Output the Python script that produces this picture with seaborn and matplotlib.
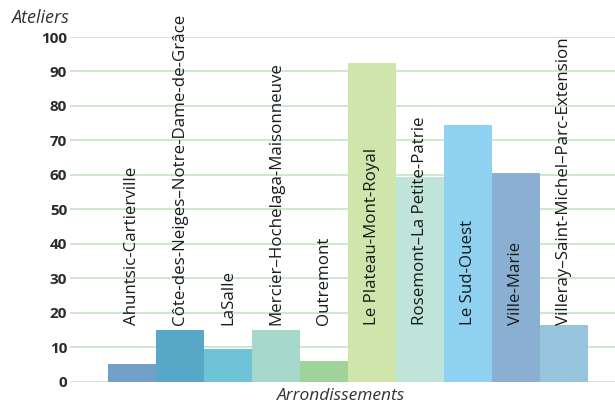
import pandas as pd
import seaborn as sns
import matplotlib.pyplot as plt

# Atelier counts per borough
arrondissements = [
    "Ahuntsic-Cartierville",
    "Côte-des-Neiges–Notre-Dame-de-Grâce",
    "LaSalle",
    "Mercier–Hochelaga-Maisonneuve",
    "Outremont",
    "Le Plateau-Mont-Royal",
    "Rosemont–La Petite-Patrie",
    "Le Sud-Ouest",
    "Ville-Marie",
    "Villeray–Saint-Michel–Parc-Extension",
]
ateliers = [5, 15, 9.6, 15, 6, 92.5, 59.5, 74.5, 60.6, 16.5]
couleurs = [
    "#729fc8", "#57a7c6", "#6ec3d6", "#a5d8cb", "#9fd39a",
    "#cfe5ac", "#c0e4da", "#8ed1f1", "#8bafd3", "#96c4dc",
]
yticks = [0, 10, 20, 30, 40, 50, 60, 70, 80, 90, 100]
label_base = 16.5

data = pd.DataFrame({"arrondissement": arrondissements, "ateliers": ateliers})

sns.set_style("white")
plt.rcParams["font.family"] = ["Open Sans", "DejaVu Sans"]

fig = plt.figure(figsize=(6.15, 4.05), dpi=100)
ax = fig.add_axes([0.1138, 0.0575, 0.8862, 0.8511])

sns.barplot(
    data,
    x="arrondissement",
    y="ateliers",
    hue="arrondissement",
    palette=couleurs,
    width=1,
    saturation=1,
    linewidth=0,
    legend=False,
    ax=ax,
    zorder=2,
)

ax.set_ylim(0, 100)
ax.set_xlim(-1.29, 10.06)
ax.set_yticks(yticks)
ax.set_yticklabels([str(t) for t in yticks], fontsize=11, fontweight="bold",
                   color="#2b2b2b")
ax.tick_params(axis="y", length=0, pad=2)
ax.set_xticks([])
ax.grid(axis="y", color="#cde8cd", linewidth=1.4, zorder=0)
ax.set_axisbelow(True)
for s in ax.spines.values():
    s.set_visible(False)

for i, name in enumerate(arrondissements):
    ax.text(i, label_base, name, rotation=90, ha="center", va="bottom",
            fontsize=12.2, color="#1a1a1a", clip_on=False, zorder=3)

ax.set_xlabel("")
ax.set_ylabel("")
fig.text(0.018, 0.955, "Ateliers", fontsize=13, style="italic", color="#333333",
         va="center")
fig.text(0.555, 0.021, "Arrondissements", fontsize=12.5, style="italic",
         color="#333333", ha="center", va="center")

fig.savefig("out.png", dpi=100)
